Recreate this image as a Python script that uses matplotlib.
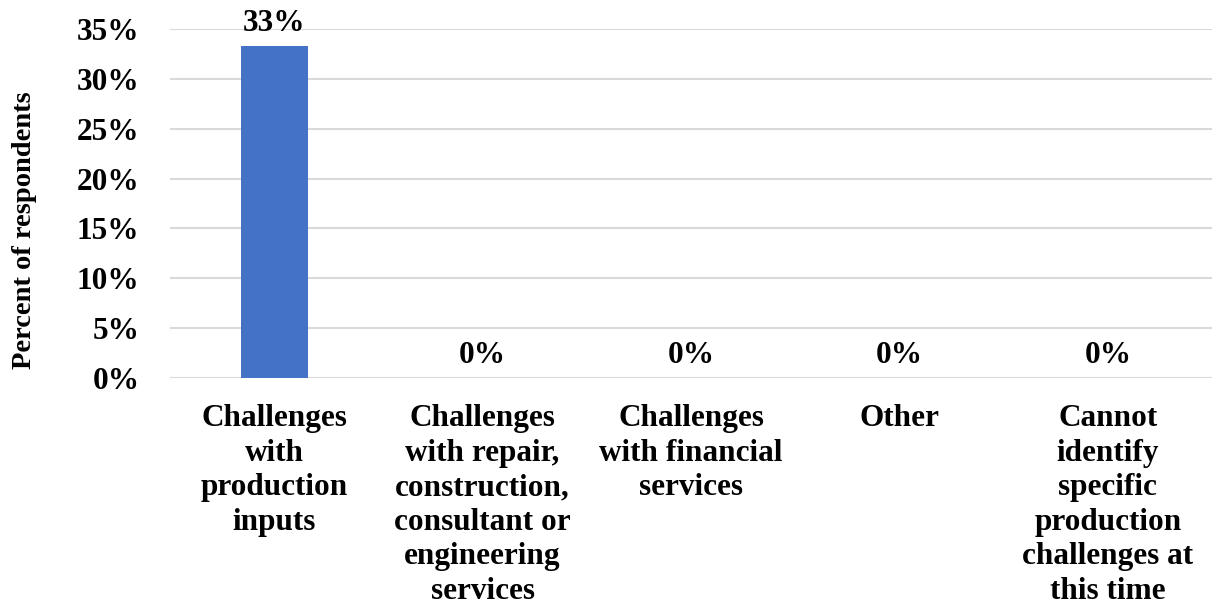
import matplotlib
matplotlib.use("Agg")
import matplotlib.pyplot as plt
from matplotlib.ticker import FuncFormatter

categories = [
    "Challenges\nwith\nproduction\ninputs",
    "Challenges\nwith repair,\nconstruction,\nconsultant or\nengineering\nservices",
    "Challenges\nwith financial\nservices",
    "Other",
    "Cannot\nidentify\nspecific\nproduction\nchallenges at\nthis time",
]
values = [33.3, 0, 0, 0, 0]
yticks = [0, 5, 10, 15, 20, 25, 30, 35]

plt.rcParams['font.family'] = ['Liberation Serif', 'DejaVu Serif']
plt.rcParams['font.weight'] = 'bold'

fig = plt.figure(figsize=(12.12, 6.13), dpi=100)
ax = fig.add_axes([170/1212, 1-378/613, 1-170/1212, (378-29)/613])

x = list(range(len(categories)))
bars = ax.bar(x, values, width=0.32, color='#4472C4', zorder=3)
ax.set_xlim(-0.5, len(categories)-0.5)
ax.set_ylim(0, 35)
ax.set_yticks(yticks)
ax.yaxis.set_major_formatter(FuncFormatter(lambda v, p: f"{v:.0f}%"))
ax.grid(axis='y', color='#d9d9d9', linewidth=1.5, zorder=0)
for s in ax.spines.values():
    s.set_visible(False)
ax.tick_params(axis='y', length=0, pad=22, labelsize=22.5)
ax.tick_params(axis='x', length=0, pad=19, labelsize=22.5)
ax.set_xticks(x)
ax.set_xticklabels(categories, fontweight='bold', linespacing=1.25, va='top')
for lbl in ax.get_yticklabels():
    lbl.set_fontweight('bold')

for xi, v in zip(x, values):
    ax.annotate(f"{v:.0f}%", (xi, v), xytext=(0, 6), textcoords='offset points',
                ha='center', va='bottom', fontsize=22.5, fontweight='bold')

ax.set_ylabel("Percent of respondents", fontsize=20.5, fontweight='bold')
ax.yaxis.set_label_coords((37-170)/1042, (378-230)/349)

fig.savefig("out.png", dpi=100)
